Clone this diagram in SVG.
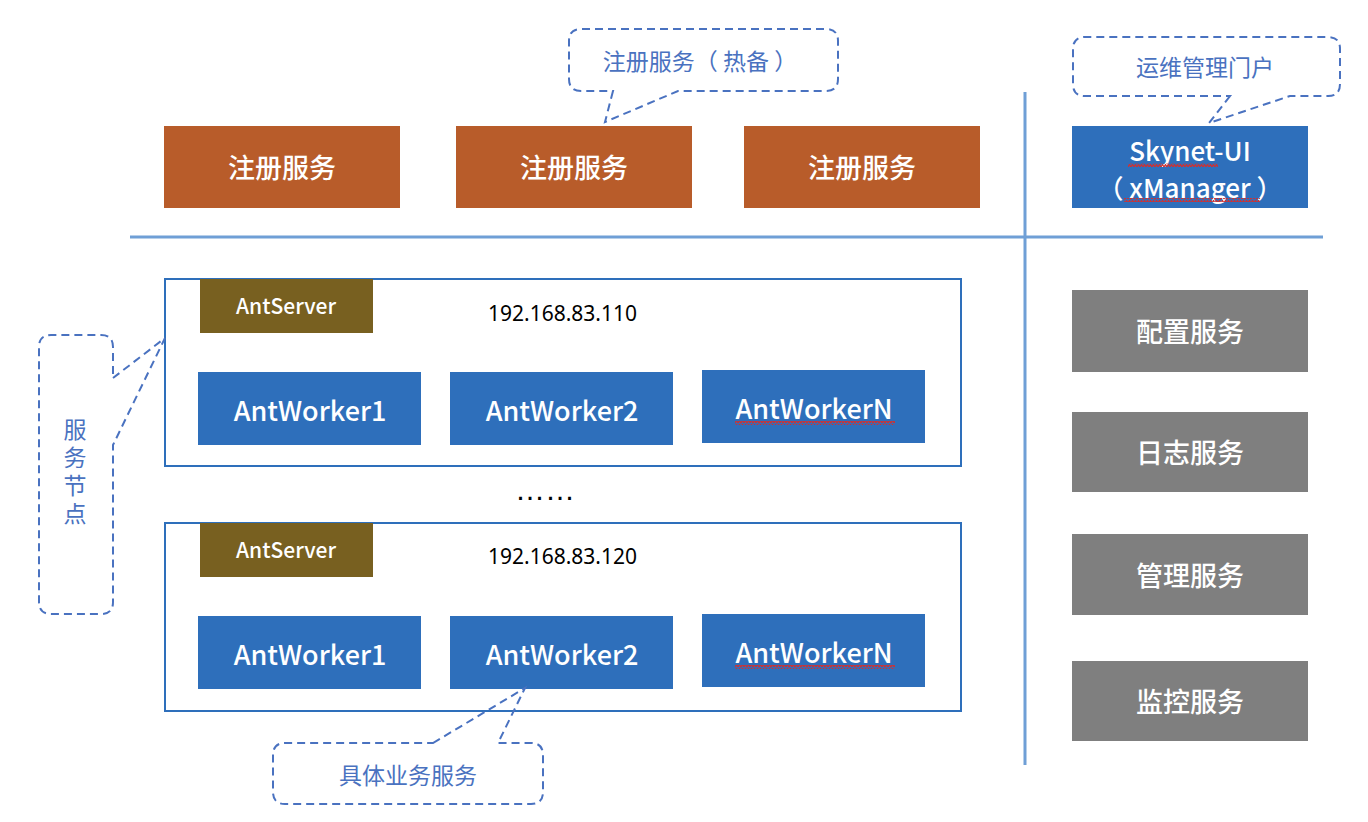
<svg xmlns="http://www.w3.org/2000/svg" width="1368" height="822" viewBox="0 0 1368 822">
<style>
.reg{fill:#b85c2a}
.blue{fill:#2e6fbb}
.gray{fill:#7f7f7f}
.srv{fill:#786020}
.t{font-family:"Noto Sans CJK SC","Noto Sans",sans-serif;fill:#fff;text-anchor:middle;dominant-baseline:central;font-weight:500}
.big{font-size:27px}
.mid{font-size:21px}
.call{fill:none;stroke:#4a72c0;stroke-width:2;stroke-dasharray:8 5}
.ct{font-family:"Noto Sans CJK SC",sans-serif;fill:#4a72c0;font-size:23px;text-anchor:middle;dominant-baseline:central}
.box{fill:none;stroke:#2e6fbb;stroke-width:2}
.sep{stroke:#6f9fd6;stroke-width:3}
.ip{font-family:"Noto Sans",sans-serif;font-size:21px;fill:#000;dominant-baseline:central}
</style>
<defs>
<pattern id="zz" width="6" height="4" patternUnits="userSpaceOnUse">
<path d="M0,3 L1.5,0.5 L3,3 L4.5,0.5 L6,3" fill="none" stroke="#d03030" stroke-width="1.2"/>
</pattern>
</defs>
<rect width="1368" height="822" fill="#fff"/>
<g id="separators">
<line class="sep" x1="130" y1="237" x2="1323" y2="237"/>
<line class="sep" x1="1025" y1="92" x2="1025" y2="765"/>
</g>
<g id="reg1"><rect class="reg" x="164" y="126" width="236" height="82"/><text class="t big" x="282" y="166">注册服务</text></g>
<g id="reg2"><rect class="reg" x="456" y="126" width="236" height="82"/><text class="t big" x="574" y="166">注册服务</text></g>
<g id="reg3"><rect class="reg" x="744" y="126" width="236" height="82"/><text class="t big" x="862" y="166">注册服务</text></g>
<g id="skynet"><rect class="blue" x="1072" y="126" width="236" height="82"/>
<text class="t" x="1190" y="149" font-size="26">Skynet-UI</text>
<text class="t" x="1190" y="186" font-size="26">（ xManager ）</text>
<rect x="1128" y="163" width="90" height="4" fill="url(#zz)"/>
<rect x="1124" y="198" width="136" height="4" fill="url(#zz)"/>
</g>
<g id="cfg"><rect class="gray" x="1072" y="290" width="236" height="82"/><text class="t big" x="1190" y="330">配置服务</text></g>
<g id="log"><rect class="gray" x="1072" y="412" width="236" height="80"/><text class="t big" x="1190" y="451">日志服务</text></g>
<g id="mgr"><rect class="gray" x="1072" y="534" width="236" height="81"/><text class="t big" x="1190" y="574">管理服务</text></g>
<g id="mon"><rect class="gray" x="1072" y="661" width="236" height="80"/><text class="t big" x="1190" y="700">监控服务</text></g>
<g id="node1">
<rect class="box" x="165" y="279" width="796" height="187"/>
<rect class="srv" x="200" y="279" width="173" height="54"/><text class="t mid" x="286" y="305">AntServer</text>
<text class="ip" x="488" y="313">192.168.83.110</text>
<rect class="blue" x="198" y="372" width="223" height="73"/><text class="t big" x="310" y="409">AntWorker1</text>
<rect class="blue" x="450" y="372" width="223" height="73"/><text class="t big" x="562" y="409">AntWorker2</text>
<rect class="blue" x="702" y="370" width="223" height="73"/><text class="t big" x="814" y="407">AntWorkerN</text>
<rect x="735" y="421" width="160" height="4" fill="url(#zz)"/>
</g>
<text x="545" y="500" font-family="Liberation Sans,sans-serif" font-size="30" text-anchor="middle" fill="#000">……</text>
<g id="node2">
<rect class="box" x="165" y="523" width="796" height="188"/>
<rect class="srv" x="200" y="523" width="173" height="54"/><text class="t mid" x="286" y="549">AntServer</text>
<text class="ip" x="488" y="556">192.168.83.120</text>
<rect class="blue" x="198" y="616" width="223" height="73"/><text class="t big" x="310" y="653">AntWorker1</text>
<rect class="blue" x="450" y="616" width="223" height="73"/><text class="t big" x="562" y="653">AntWorker2</text>
<rect class="blue" x="702" y="614" width="223" height="73"/><text class="t big" x="814" y="651">AntWorkerN</text>
<rect x="735" y="665" width="160" height="4" fill="url(#zz)"/>
</g>
<g id="callouts">
<path class="call" d="M613,91 L605,122 L678,91 L826,91 Q838,91 838,79 L838,41 Q838,29 826,29 L581,29 Q569,29 569,41 L569,79 Q569,91 581,91 Z"/>
<text class="ct" x="700" y="60">注册服务（ 热备 ）</text>
<path class="call" d="M1230,96 L1209,123 L1290,96 L1328,96 Q1340,96 1340,84 L1340,49 Q1340,37 1328,37 L1085,37 Q1073,37 1073,49 L1073,84 Q1073,96 1085,96 Z"/>
<text class="ct" x="1205" y="66">运维管理门户</text>
<path class="call" d="M113,378 L165,338 L113,445 L113,602 Q113,614 101,614 L51,614 Q39,614 39,602 L39,347 Q39,335 51,335 L101,335 Q113,335 113,347 Z"/>
<text x="75" y="474" font-family="Noto Sans CJK SC,sans-serif" font-size="23" fill="#4a72c0" text-anchor="middle" writing-mode="vertical-rl" letter-spacing="5">服务节点</text>
<path class="call" d="M433,743 L525,688 L498,743 L531,743 Q543,743 543,755 L543,792 Q543,804 531,804 L285,804 Q273,804 273,792 L273,755 Q273,743 285,743 Z"/>
<text class="ct" x="408" y="774">具体业务服务</text>
</g>
</svg>
